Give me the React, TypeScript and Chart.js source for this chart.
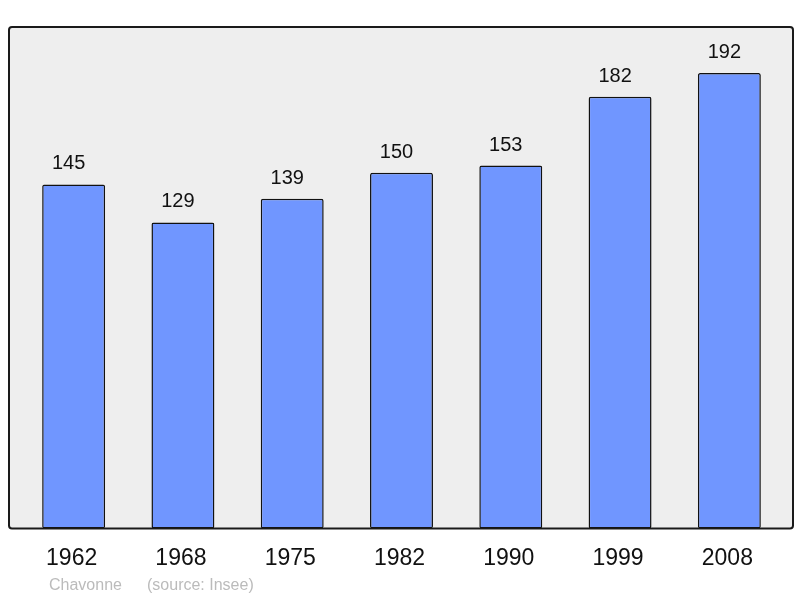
import React, { useEffect, useRef } from "react";
import { Chart, registerables } from "chart.js";

Chart.register(...registerables);

const years = ["1962", "1968", "1975", "1982", "1990", "1999", "2008"];
const population = [145, 129, 139, 150, 153, 182, 192];
const footerName = "Chavonne";
const footerSource = "(source: Insee)";

const FONT = "'Liberation Sans', Arial, sans-serif";

const decorPlugin = {
  id: "decor",
  beforeDatasetsDraw(chart: any) {
    const { ctx, chartArea } = chart;
    const l = chartArea.left - 10;
    const r = chartArea.right + 9;
    const t = chartArea.top;
    const b = chartArea.bottom;
    ctx.save();
    ctx.beginPath();
    ctx.roundRect(l, t, r - l, b - t, 3);
    ctx.fillStyle = "#eeeeee";
    ctx.fill();
    ctx.restore();
  },
  afterDatasetsDraw(chart: any) {
    const { ctx, chartArea } = chart;
    const l = chartArea.left - 10;
    const r = chartArea.right + 9;
    const t = chartArea.top;
    const b = chartArea.bottom;
    ctx.save();
    ctx.beginPath();
    ctx.roundRect(l, t, r - l, b - t, 3);
    ctx.lineWidth = 2;
    ctx.strokeStyle = "#1a1a1a";
    ctx.stroke();

    const meta = chart.getDatasetMeta(0);
    const data = chart.data.datasets[0].data;
    ctx.fillStyle = "#111111";
    ctx.font = `20px ${FONT}`;
    ctx.textAlign = "center";
    ctx.textBaseline = "alphabetic";
    meta.data.forEach((bar: any, i: number) => {
      ctx.fillText(String(data[i]), bar.x - 5, bar.y - 15);
    });

    ctx.fillStyle = "#bbbbbb";
    ctx.font = `16px ${FONT}`;
    ctx.textAlign = "left";
    ctx.fillText(footerName, 49, 590);
    ctx.fillText(footerSource, 147, 590);
    ctx.restore();
  },
};

export default function App() {
  const ref = useRef<HTMLCanvasElement | null>(null);
  useEffect(() => {
    if (!ref.current) return;
    const chart = new Chart(ref.current, {
      type: "bar",
      data: {
        labels: years,
        datasets: [
          {
            data: population,
            backgroundColor: "#7096ff",
            borderColor: "#111111",
            borderWidth: 1.5,
            borderRadius: 2,
            borderSkipped: false,
            categoryPercentage: 1,
            barPercentage: 0.576,
          },
        ],
      },
      options: {
        responsive: false,
        animation: false,
        layout: { padding: { left: 19, right: 16, top: 27, bottom: 10 } },
        plugins: { legend: { display: false }, tooltip: { enabled: false } },
        scales: {
          x: {
            grid: { display: false, drawTicks: false },
            border: { display: false },
            ticks: {
              color: "#111111",
              font: { family: FONT, size: 23 },
              padding: 16,
              labelOffset: -2,
            },
          },
          y: {
            display: false,
            min: 0,
            max: 211.4,
          },
        },
      },
      plugins: [decorPlugin],
    });
    return () => chart.destroy();
  }, []);
  return (
    <canvas
      ref={ref}
      width={800}
      height={598}
      style={{ position: "absolute", left: 0, top: 0, width: 800, height: 598 }}
    />
  );
}
